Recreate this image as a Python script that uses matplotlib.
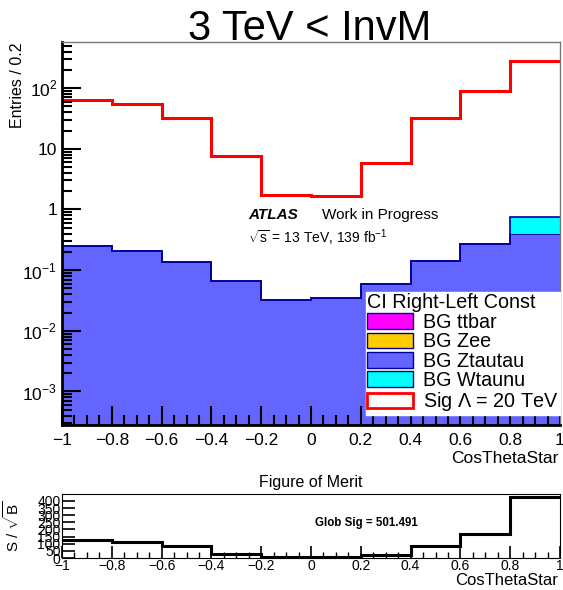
import numpy as np
import matplotlib.pyplot as plt
import matplotlib.patches as mpatches
from matplotlib.ticker import FixedLocator, MultipleLocator, LogLocator, FuncFormatter, NullFormatter

plt.rcParams['font.family'] = ['Liberation Sans', 'DejaVu Sans']
plt.rcParams['mathtext.fontset'] = 'custom'
plt.rcParams['mathtext.rm'] = 'Liberation Sans'

# binning
edges = np.linspace(-1, 1, 11)

# stacked backgrounds (entries / 0.2)
bg_ttbar = np.array([0, 0, 0, 0, 0, 0, 0, 0, 0, 0], dtype=float)
bg_zee = np.array([0, 0, 0, 0, 0, 0, 0, 0, 0, 0], dtype=float)
bg_ztautau = np.array([0.248, 0.206, 0.135, 0.067, 0.0325, 0.035, 0.058, 0.14, 0.27, 0.40])
bg_wtaunu = np.array([0, 0, 0, 0, 0, 0, 0, 0, 0, 0.35])

# signal, Lambda = 20 TeV
sig = np.array([63, 54, 32, 7.5, 1.75, 1.66, 5.9, 32, 90, 279])

# figure of merit S/sqrt(B)
fom = np.array([124.5, 112.6, 81, 26, 7, 7, 21, 81, 168, 431])
glob_sig = 501.491

W, H = 563, 590
fig = plt.figure(figsize=(W / 100, H / 100), dpi=100)

def box(l, t, r, b):
    return [l / W, 1 - b / H, (r - l) / W, (b - t) / H]

def xfmt(v, p):
    return ('%g' % round(v, 1)).replace('-', '\u2212')

# ---- main pad
ax = fig.add_axes(box(62, 42, 560, 425))
ax.set_yscale('log')
floor = 1e-5
layers = [('BG ttbar', bg_ttbar, '#ff00ff'),
          ('BG Zee', bg_zee, '#ffcc00'),
          ('BG Ztautau', bg_ztautau, '#6464ff'),
          ('BG Wtaunu', bg_wtaunu, '#00ffff')]
base = np.full(10, floor)
handles = []
for name, vals, col in layers:
    top = base + vals
    ax.stairs(top, edges, baseline=base, fill=True, facecolor=col, linewidth=0)
    ax.stairs(top, edges, baseline=None, color='#000099', linewidth=1.2)
    handles.append(mpatches.Patch(facecolor=col, edgecolor='#000099', linewidth=1, label=name))
    base = top

ax.stairs(sig, edges, baseline=None, color='#ff0000', linewidth=2.2)
handles.append(mpatches.Patch(facecolor='white', edgecolor='#ff0000', linewidth=2,
                              label='Sig $\\Lambda$ = 20 TeV'))

ax.set_xlim(-1, 1)
ax.set_ylim(2.8e-4, 575)
ax.xaxis.set_major_locator(MultipleLocator(0.2))
ax.xaxis.set_minor_locator(MultipleLocator(0.05))
ax.xaxis.set_major_formatter(FuncFormatter(xfmt))

ylabels = {2: '$10^{2}$', 1: '10', 0: '1', -1: '$10^{-1}$', -2: '$10^{-2}$', -3: '$10^{-3}$'}
ax.yaxis.set_major_locator(FixedLocator([10.0 ** k for k in ylabels]))
ax.yaxis.set_major_formatter(FuncFormatter(lambda v, p: ylabels.get(int(round(np.log10(v))), '')))
ax.yaxis.set_minor_locator(LogLocator(base=10, subs=np.arange(2, 10), numticks=20))
ax.yaxis.set_minor_formatter(NullFormatter())
ax.tick_params(which='both', direction='in', top=False, right=False, labelsize=12.5, width=1.5, color='black')
ax.tick_params(which='major', length=14)
ax.tick_params(which='minor', length=7)
ax.tick_params(axis='x', pad=6)
for s in ['top', 'right']:
    ax.spines[s].set_color('#777777')
    ax.spines[s].set_linewidth(1)
for s in ['left', 'bottom']:
    ax.spines[s].set_linewidth(2)

fig.text(310 / W, 1 - 40 / H, '3 TeV < InvM', ha='center', va='baseline', fontsize=30)
fig.text(18 / W, 1 - 42 / H, 'Entries / 0.2', rotation=90, ha='center', va='top', fontsize=11.5)
fig.text(558 / W, 1 - 463 / H, 'CosThetaStar', ha='right', va='baseline', fontsize=12.5)

fig.text(248 / W, 1 - 219 / H, 'ATLAS', fontsize=11, fontweight='bold', fontstyle='italic')
fig.text(322 / W, 1 - 219 / H, 'Work in Progress', fontsize=11)
fig.text(248 / W, 1 - 243 / H, '$\\sqrt{\\mathrm{s}}$ = 13 TeV, 139 fb$^{-1}$', fontsize=10)

leg = ax.legend(handles=handles, loc='lower right', bbox_to_anchor=(1.0, 0.025),
                title='CI Right-Left Const', fontsize=14.2, title_fontsize=14.2,
                frameon=True, fancybox=False, framealpha=1, edgecolor='white',
                handlelength=2.3, handleheight=0.85, handletextpad=0.5,
                borderpad=0.1, labelspacing=0.02, borderaxespad=0)
leg._legend_box.align = 'left'

# ---- figure of merit pad
ax2 = fig.add_axes(box(62, 494, 560, 558))
ax2.stairs(fom, edges, baseline=None, color='black', linewidth=2.2)
ax2.set_xlim(-1, 1)
ax2.set_ylim(0, 449)
ax2.xaxis.set_major_locator(MultipleLocator(0.2))
ax2.xaxis.set_minor_locator(MultipleLocator(0.05))
ax2.xaxis.set_major_formatter(FuncFormatter(xfmt))
ax2.yaxis.set_major_locator(MultipleLocator(50))
ax2.tick_params(which='both', direction='in', top=False, right=False, labelsize=10, pad=1)
ax2.tick_params(which='major', length=9, width=1.2)
ax2.tick_params(which='minor', length=4, width=1)
ax2.set_title('Figure of Merit', fontsize=11.5, pad=5)
fig.text(558 / W, 1 - 585 / H, 'CosThetaStar', ha='right', va='baseline', fontsize=12)
fig.text(12 / W, 1 - 526 / H, 'S / $\\sqrt{\\mathrm{B}}$', rotation=90, ha='center', va='center', fontsize=11)
ax2.text(0.612, 0.55, 'Glob Sig = %.3f' % glob_sig, transform=ax2.transAxes,
         ha='center', va='center', fontsize=8.3, fontweight='bold')

fig.savefig('out.png', dpi=100)
